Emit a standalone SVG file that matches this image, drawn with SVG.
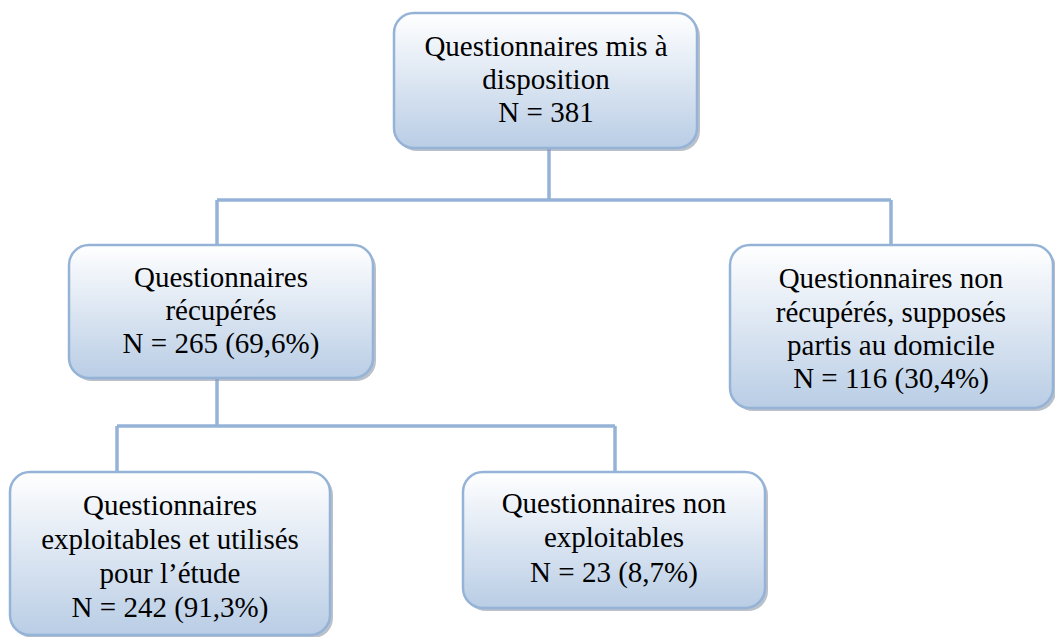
<svg xmlns="http://www.w3.org/2000/svg" width="1055" height="637" viewBox="0 0 1055 637">
<defs>
<linearGradient id="g" x1="0" y1="0" x2="0" y2="1">
<stop offset="0" stop-color="#ffffff"/>
<stop offset="1" stop-color="#b9cde5"/>
</linearGradient>
</defs>
<style>
.box{fill:url(#g);stroke:#95b3d7;stroke-width:2.5}
.shadow{fill:#8e98a6;opacity:0.6}
.t{font-family:'Liberation Serif';font-size:29px;fill:#000;text-anchor:middle}
.c{fill:none;stroke:#95b3d7;stroke-width:3.5}
</style>
<rect width="1055" height="637" fill="#ffffff"/>
<g id="connectors">
<path class="c" d="M549,148 V200 M217,200 H891 M217,200 V246 M891,200 V246"/>
<path class="c" d="M217,378 V426 M117,426 H615 M117,426 V473 M615,426 V473"/>
</g>
<g id="node-top">
<rect class="shadow" x="397" y="16" width="303" height="135" rx="20"/>
<rect class="box" x="394" y="13" width="303" height="135" rx="20"/>
<text class="t" font-family="'Liberation Serif'" x="546" y="56">Questionnaires mis &#224;</text>
<text class="t" font-family="'Liberation Serif'" x="546" y="89">disposition</text>
<text class="t" font-family="'Liberation Serif'" x="546" y="122">N = 381</text>
</g>
<g id="node-recuperes">
<rect class="shadow" x="72" y="248" width="304" height="133" rx="20"/>
<rect class="box" x="69" y="245" width="304" height="133" rx="20"/>
<text class="t" font-family="'Liberation Serif'" x="221" y="287">Questionnaires</text>
<text class="t" font-family="'Liberation Serif'" x="221" y="320">r&#233;cup&#233;r&#233;s</text>
<text class="t" font-family="'Liberation Serif'" x="221" y="353">N = 265 (69,6%)</text>
</g>
<g id="node-non-recuperes">
<rect class="shadow" x="733" y="248" width="323" height="163" rx="20"/>
<rect class="box" x="730" y="245" width="323" height="163" rx="20"/>
<text class="t" font-family="'Liberation Serif'" x="891" y="288">Questionnaires non</text>
<text class="t" font-family="'Liberation Serif'" x="891" y="322">r&#233;cup&#233;r&#233;s, suppos&#233;s</text>
<text class="t" font-family="'Liberation Serif'" x="891" y="355">partis au domicile</text>
<text class="t" font-family="'Liberation Serif'" x="891" y="388">N = 116 (30,4%)</text>
</g>
<g id="node-exploitables">
<rect class="shadow" x="13" y="475" width="320" height="163" rx="20"/>
<rect class="box" x="10" y="472" width="320" height="163" rx="20"/>
<text class="t" font-family="'Liberation Serif'" x="170" y="515">Questionnaires</text>
<text class="t" font-family="'Liberation Serif'" x="170" y="549">exploitables et utilis&#233;s</text>
<text class="t" font-family="'Liberation Serif'" x="170" y="583">pour l&#8217;&#233;tude</text>
<text class="t" font-family="'Liberation Serif'" x="170" y="617">N = 242 (91,3%)</text>
</g>
<g id="node-non-exploitables">
<rect class="shadow" x="466" y="475" width="302" height="136" rx="20"/>
<rect class="box" x="463" y="472" width="302" height="136" rx="20"/>
<text class="t" font-family="'Liberation Serif'" x="614" y="513">Questionnaires non</text>
<text class="t" font-family="'Liberation Serif'" x="614" y="547">exploitables</text>
<text class="t" font-family="'Liberation Serif'" x="614" y="582">N = 23 (8,7%)</text>
</g>
</svg>
